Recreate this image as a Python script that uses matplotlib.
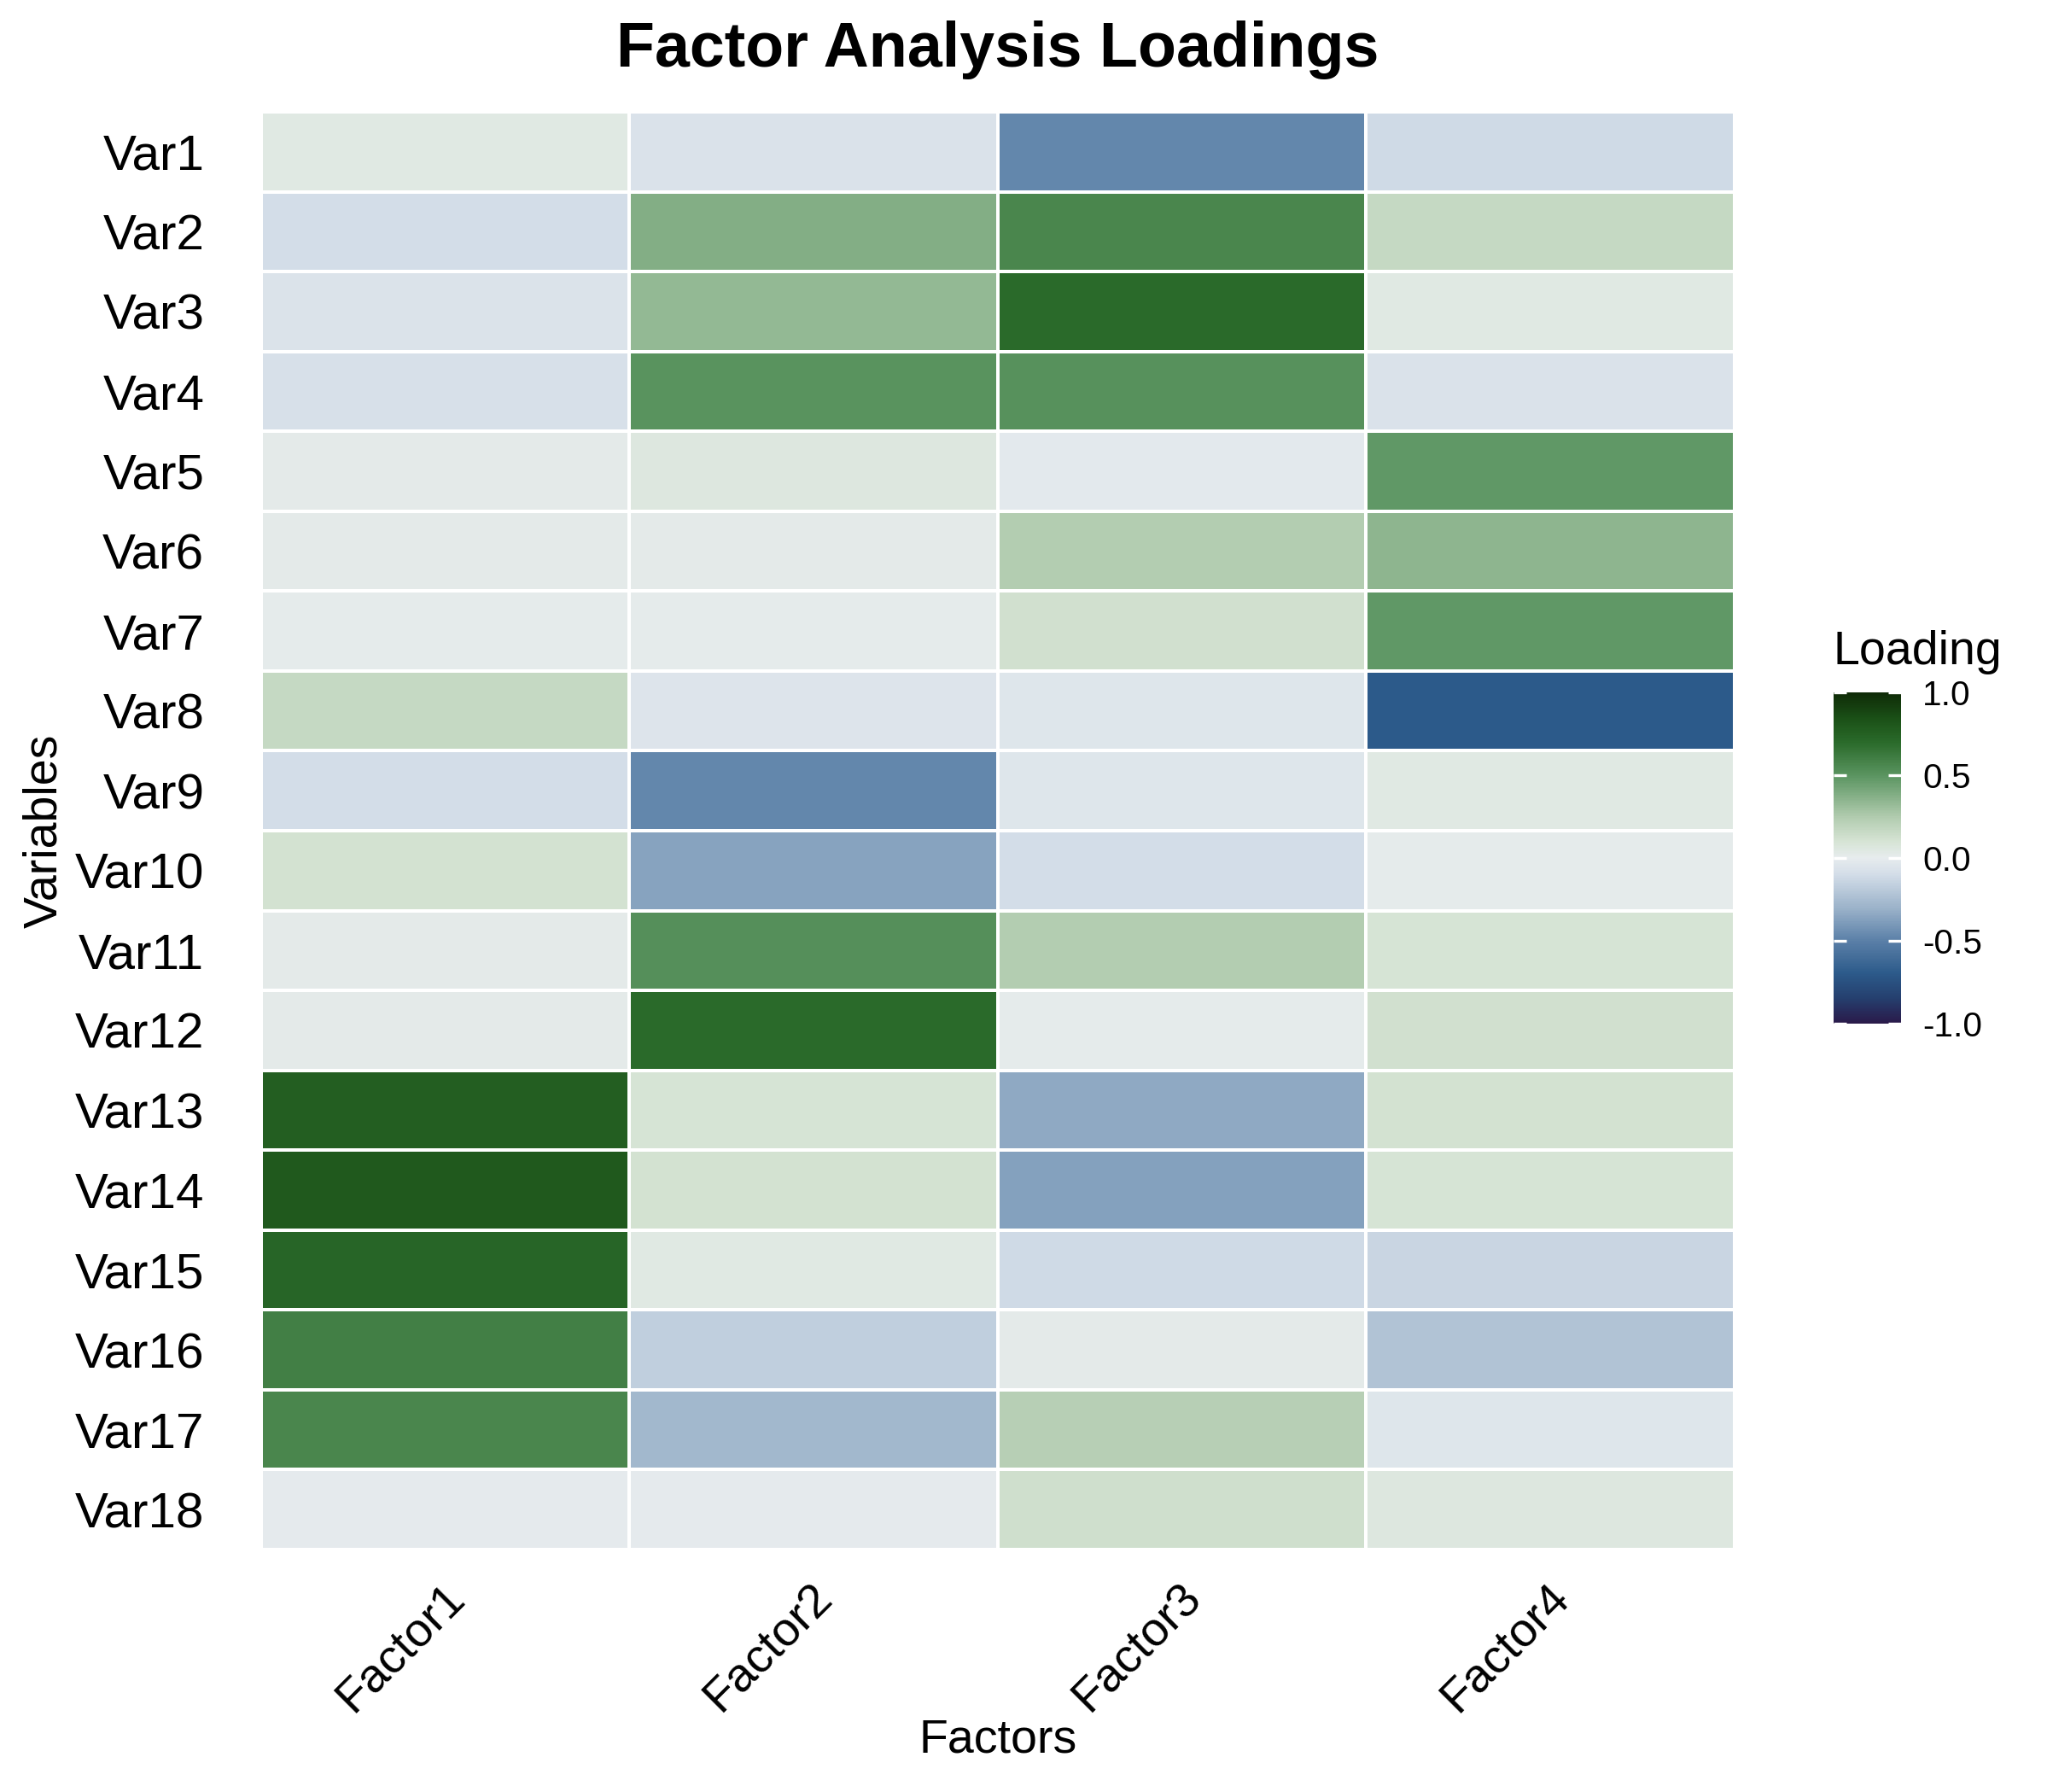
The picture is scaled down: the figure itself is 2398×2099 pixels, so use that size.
import numpy as np
import matplotlib
matplotlib.use("Agg")
import matplotlib.pyplot as plt
from matplotlib.colors import LinearSegmentedColormap
from matplotlib.transforms import ScaledTranslation

plt.rcParams['font.family'] = ['Liberation Sans', 'DejaVu Sans']

variables = ["Var%d" % i for i in range(1, 19)]
factors = ["Factor1", "Factor2", "Factor3", "Factor4"]

# loadings, one list per factor
factor1 = [0.04, -0.10, -0.06, -0.08, 0.02, 0.02, 0.01, 0.17, -0.10,
           0.11, 0.02, 0.02, 0.76, 0.79, 0.72, 0.60, 0.57, -0.01]
factor2 = [-0.07, 0.38, 0.33, 0.50, 0.06, 0.02, 0.01, -0.05, -0.47,
           -0.36, 0.52, 0.70, 0.10, 0.11, 0.04, -0.17, -0.28, -0.01]
factor3 = [-0.47, 0.57, 0.70, 0.51, -0.02, 0.24, 0.12, -0.04, -0.04,
           -0.10, 0.24, 0.01, -0.34, -0.37, -0.11, 0.02, 0.22, 0.13]
factor4 = [-0.11, 0.17, 0.04, -0.07, 0.48, 0.35, 0.48, -0.70, 0.04,
           0.01, 0.10, 0.12, 0.11, 0.10, -0.14, -0.22, -0.04, 0.06]

loadings = np.array([factor1, factor2, factor3, factor4]).T

cmap = LinearSegmentedColormap.from_list("loadings", [
    (0.000, "#2a1a4a"),
    (0.075, "#253f6e"),
    (0.150, "#2c5a8a"),
    (0.250, "#5b80a8"),
    (0.350, "#9cb3ca"),
    (0.450, "#d3dde8"),
    (0.500, "#e7ecee"),
    (0.550, "#d6e4d5"),
    (0.625, "#b0cbae"),
    (0.750, "#5a9460"),
    (0.850, "#2a6a2a"),
    (0.925, "#1a4f16"),
    (1.000, "#0f2a07"),
])

fig = plt.figure(figsize=(11.99, 10.495), dpi=200)
ax = fig.add_axes([0.1276, 0.1353, 0.7196, 0.8023])

mesh = ax.pcolormesh(loadings, cmap=cmap, vmin=-1, vmax=1,
                     edgecolors="white", linewidth=0.8)
ax.set_xlim(0, len(factors))
ax.set_ylim(len(variables), 0)

ax.set_xticks(np.arange(len(factors)) + 0.5)
ax.set_xticklabels(factors, rotation=45, ha="right", fontsize=20)
ax.set_yticks(np.arange(len(variables)) + 0.5)
ax.set_yticklabels(variables, fontsize=21)
ax.tick_params(axis="both", length=0)
ax.tick_params(axis="y", pad=24)
ax.tick_params(axis="x", pad=11)
shift = ScaledTranslation(33 / 200, 0, fig.dpi_scale_trans)
for lab in ax.get_xticklabels():
    lab.set_transform(lab.get_transform() + shift)
for s in ax.spines.values():
    s.set_visible(False)

ax.set_title("Factor Analysis Loadings", fontsize=26.5, fontweight="bold", pad=19)
ax.set_xlabel("Factors", fontsize=20)
ax.set_ylabel("Variables", fontsize=20)
ax.xaxis.set_label_coords(0.5, -0.117)
ax.yaxis.set_label_coords(-0.132, 0.5)

cax = fig.add_axes([0.8957, 0.4288, 0.033, 0.1849])
cbar = fig.colorbar(mesh, cax=cax, ticks=[-1, -0.5, 0, 0.5, 1])
cbar.outline.set_visible(False)
cbar.ax.set_yticklabels(["-1.0", "-0.5", "0.0", "0.5", "1.0"])
cbar.ax.tick_params(direction="in", color="white", left=True, right=True,
                    length=5.4, width=1.2, labelsize=14.6, pad=9)
fig.text(2147 / 2398, 1 - 778 / 2099, "Loading", fontsize=20,
         ha="left", va="baseline")

fig.savefig("out.png", dpi=200)
